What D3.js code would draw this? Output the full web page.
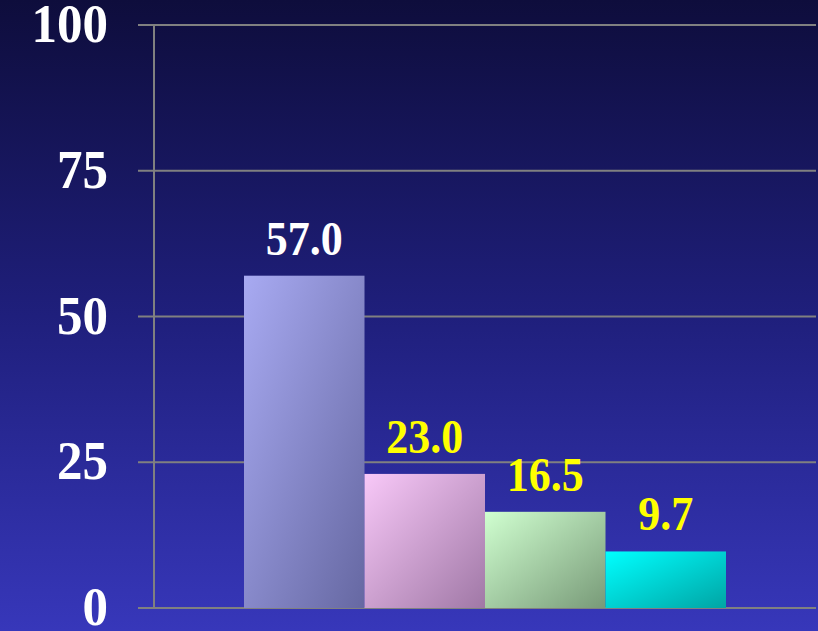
<!DOCTYPE html>
<html><head><meta charset="utf-8">
<script src="https://cdn.jsdelivr.net/npm/d3@7"></script>
<style>html,body{margin:0;padding:0;background:#1a1a6a;}svg{display:block;}</style>
</head><body>
<script>
const categories = ["A", "B", "C", "D"];
const values = [57.0, 23.0, 16.5, 9.7];
const valueLabels = ["57.0", "23.0", "16.5", "9.7"];
const yTicks = [0, 25, 50, 75, 100];
const barTop = ["#a8aaf2", "#f8c8f8", "#d0ffd0", "#00ffff"];
const barBot = ["#6668a2", "#a078a6", "#789a78", "#00a4a4"];
const labelColors = ["#ffffff", "#ffff00", "#ffff00", "#ffff00"];

const W = 818, H = 631;
const svg = d3.select("body").append("svg").attr("width", W).attr("height", H);
const defs = svg.append("defs");
const bg = defs.append("linearGradient").attr("id", "bg").attr("x1", 0).attr("y1", 0).attr("x2", 0).attr("y2", 1);
bg.append("stop").attr("offset", "0%").attr("stop-color", "#0e0d3c");
bg.append("stop").attr("offset", "50%").attr("stop-color", "#1f1f7c");
bg.append("stop").attr("offset", "100%").attr("stop-color", "#3737ba");
svg.append("rect").attr("width", W).attr("height", H).attr("fill", "url(#bg)");

categories.forEach((c, i) => {
  const g = defs.append("linearGradient").attr("id", "bar" + i)
    .attr("x1", 0).attr("y1", 0).attr("x2", 1).attr("y2", 1);
  g.append("stop").attr("offset", "0%").attr("stop-color", barTop[i]);
  g.append("stop").attr("offset", "100%").attr("stop-color", barBot[i]);
});

const y = d3.scaleLinear().domain([0, 100]).range([608, 25]);
const x = d3.scaleBand().domain(categories).range([244, 726]).padding(0);

// gridlines
svg.append("g").selectAll("line").data(yTicks).join("line")
  .attr("x1", 138).attr("x2", 816)
  .attr("y1", d => y(d)).attr("y2", d => y(d))
  .attr("stroke", "#808080").attr("stroke-width", 2);
// vertical axis line
svg.append("line").attr("x1", 154).attr("x2", 154).attr("y1", y(100)).attr("y2", y(0))
  .attr("stroke", "#808080").attr("stroke-width", 2);

// y labels
svg.append("g").selectAll("text").data(yTicks).join("text")
  .attr("transform", d => `translate(108,${y(d) + 17}) scale(1,1.08)`)
  .attr("text-anchor", "end")
  .attr("font-family", "Liberation Serif, Times New Roman, serif")
  .attr("font-weight", "bold").attr("font-size", 51).attr("fill", "#ffffff")
  .text(d => d);

// bars
svg.append("g").selectAll("rect").data(values).join("rect")
  .attr("x", (d, i) => x(categories[i]))
  .attr("width", x.bandwidth())
  .attr("y", d => y(d))
  .attr("height", d => y(0) - y(d))
  .attr("fill", (d, i) => `url(#bar${i})`);

// value labels
svg.append("g").selectAll("text").data(values).join("text")
  .attr("transform", (d, i) => `translate(${x(categories[i]) + x.bandwidth() / 2},${y(d) - 21}) scale(1,1.12)`)
  .attr("text-anchor", "middle")
  .attr("font-family", "Liberation Serif, Times New Roman, serif")
  .attr("font-weight", "bold").attr("font-size", 44)
  .attr("fill", (d, i) => labelColors[i])
  .text((d, i) => valueLabels[i]);
</script>
</body></html>
